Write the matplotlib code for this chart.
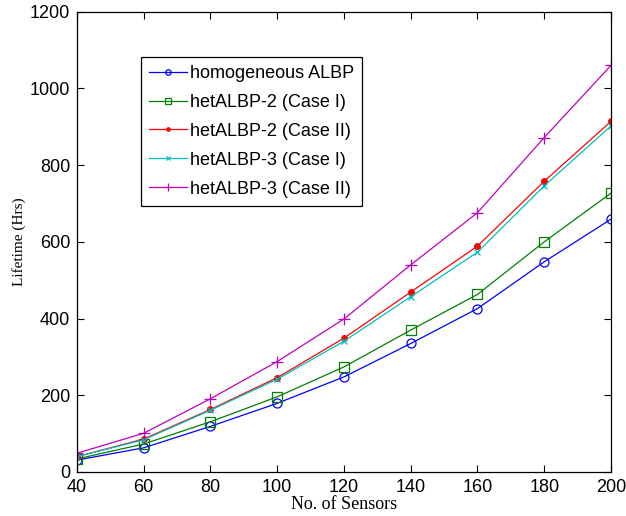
import numpy as np
import matplotlib
matplotlib.use('Agg')
import matplotlib.pyplot as plt

#-----------------------------------------------------------------------------
# data
sensors = [40, 60, 80, 100, 120, 140, 160, 180, 200]

homo_albp  = [31, 63, 119, 179, 248, 335, 426, 548, 659]
het2_case1 = [34, 73, 131, 196, 274, 370, 463, 600, 727]
het2_case2 = [40, 86, 163, 246, 349, 469, 589, 758, 914]
het3_case1 = [40, 84, 161, 242, 341, 457, 573, 746, 902]
het3_case2 = [49, 101, 191, 288, 399, 540, 676, 872, 1060]

labels = ['homogeneous ALBP', 'hetALBP-2 (Case I)', 'hetALBP-2 (Case II)',
          'hetALBP-3 (Case I)', 'hetALBP-3 (Case II)']
#-----------------------------------------------------------------------------

fig = plt.figure(figsize=(6.26, 5.16), dpi=100)
ax = fig.add_axes([0.123, 0.0853, 0.853, 0.892])

ax.plot(sensors, homo_albp, linestyle='-', marker='o', color='#0000ff', lw=0.9, ms=6.5, mfc='none', mew=0.9, label=labels[0])
ax.plot(sensors, het2_case1, linestyle='-', marker='s', color='#008000', lw=0.9, ms=7, mfc='none', mew=0.9, label=labels[1])
ax.plot(sensors, het2_case2, linestyle='-', marker='.', color='#ff0000', lw=0.9, ms=8, label=labels[2])
ax.plot(sensors, het3_case1, linestyle='-', marker='x', color='#00bfbf', lw=0.9, ms=4, mew=0.9, label=labels[3])
ax.plot(sensors, het3_case2, linestyle='-', marker='+', color='#bf00bf', lw=0.9, ms=9, mew=0.9, label=labels[4])

ax.set_xlim(40, 200)
ax.set_ylim(0, 1200)
ax.set_xticks(np.arange(40, 201, 20))
ax.set_yticks(np.arange(0, 1201, 200))
ax.tick_params('both', which='major', length=5, width=0.8, direction='in',
               top=True, right=True, labelsize=13, pad=5)
for lab in ax.get_xticklabels() + ax.get_yticklabels():
    lab.set_family('Liberation Sans')
for s in ax.spines.values():
    s.set_linewidth(0.9)

ax.set_xlabel('No. of Sensors', family='Liberation Serif', fontsize=13, labelpad=0)
ax.set_ylabel('Lifetime (Hrs)', family='Liberation Serif', fontsize=11, labelpad=3)

leg = ax.legend(loc='upper left', bbox_to_anchor=(0.12, 0.902), prop={'family': 'Liberation Sans', 'size': 13},
                fancybox=False, edgecolor='black', framealpha=1, handlelength=2.1, markerscale=0.6,
                borderpad=0.45, labelspacing=0.66, handletextpad=0.15, borderaxespad=0)
leg.get_frame().set_linewidth(0.9)

plt.savefig('out.png', dpi=100)
